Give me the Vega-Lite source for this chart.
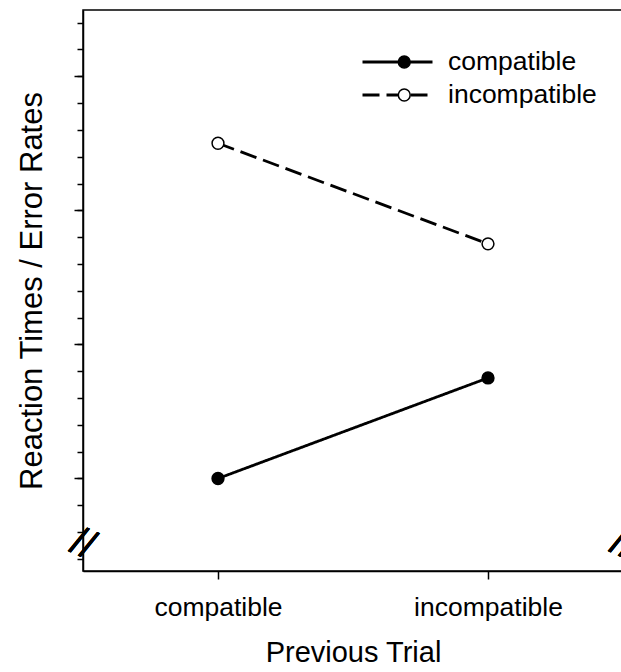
{
  "$schema": "https://vega.github.io/schema/vega-lite/v6.json",
  "autosize": {"type": "none"},
  "padding": {"left": 83, "top": 10, "right": 0, "bottom": 101},
  "width": 540,
  "height": 561,
  "background": "white",
  "config": {
    "view": {"stroke": "black", "strokeWidth": 1.5},
    "font": "Liberation Sans",
    "axis": {"domainColor": "black", "tickColor": "black", "domainWidth": 1.5, "tickWidth": 1.5, "grid": false, "labelColor": "black", "titleColor": "black", "titleFont": "Liberation Sans", "labelFont": "Liberation Sans", "titleFontWeight": "normal"},
    "legend": {"labelFont": "Liberation Sans", "labelColor": "black"}
  },
  "data": {"values": [
    {"prev": "compatible", "current": "compatible", "v": 3},
    {"prev": "incompatible", "current": "compatible", "v": 6.75},
    {"prev": "compatible", "current": "incompatible", "v": 15.5},
    {"prev": "incompatible", "current": "incompatible", "v": 11.75}
  ]},
  "layer": [
    {
      "mark": {"type": "line", "color": "black", "strokeWidth": 2.8},
      "encoding": {
        "x": {"field": "prev", "type": "nominal", "scale": {"type": "point", "padding": 0.5, "domain": ["compatible", "incompatible"]},
              "axis": {"title": "Previous Trial", "labelAngle": 0, "labelFontSize": 26.5, "titleFontSize": 29, "tickSize": 8, "labelPadding": 15, "titlePadding": 18}},
        "y": {"field": "v", "type": "quantitative", "scale": {"domain": [-0.45, 20.47], "nice": false, "zero": false},
              "axis": {"orient": "left", "values": [0,1,2,3,4,5,6,7,8,9,10,11,12,13,14,15,16,17,18,19,20], "tickSize": 6, "labels": false, "title": null, "domain": false}},
        "strokeDash": {"field": "current", "type": "nominal",
              "scale": {"range": [[1, 0], [17, 7]]},
              "legend": {"orient": "none", "legendX": 278, "legendY": 35.5, "title": null, "symbolType": "stroke", "symbolSize": 4900, "symbolStrokeWidth": 2.8, "symbolStrokeColor": "black", "clipHeight": 33, "rowPadding": 0, "padding": 0, "labelFontSize": 26.5, "labelOffset": 14, "zindex": 0}}
      }
    },
    {
      "mark": {"type": "point", "filled": true, "shape": "circle", "size": 140, "stroke": "black", "strokeWidth": 1.5, "opacity": 1},
      "encoding": {
        "x": {"field": "prev", "type": "nominal"},
        "y": {"field": "v", "type": "quantitative",
              "axis": {"orient": "left", "values": [3, 8, 13, 18], "tickSize": 9, "labels": false, "title": "Reaction Times / Error Rates", "titleFontSize": 31, "titlePadding": 25}},
        "fill": {"field": "current", "type": "nominal",
              "scale": {"domain": ["compatible", "incompatible"], "range": ["black", "white"]},
              "legend": {"orient": "none", "legendX": 308, "legendY": 35.5, "title": null, "symbolType": "circle", "symbolSize": 140, "symbolStrokeWidth": 1.5, "symbolStrokeColor": "black", "symbolOpacity": 1, "clipHeight": 33, "rowPadding": 0, "padding": 0, "labelFontSize": 26.5, "labelExpr": "''", "zindex": 1}}
      }
    },
    {
      "mark": {"type": "text", "text": "//", "fontSize": 40, "angle": 24, "align": "center", "baseline": "middle", "color": "black"},
      "encoding": {
        "x": {"value": 0},
        "y": {"datum": 0.55, "type": "quantitative", "axis": null}
      }
    },
    {
      "mark": {"type": "text", "text": "//", "fontSize": 40, "angle": 24, "align": "center", "baseline": "middle", "color": "black"},
      "encoding": {
        "x": {"value": "width"},
        "y": {"datum": 0.55, "type": "quantitative", "axis": null}
      }
    }
  ],
  "resolve": {"axis": {"y": "independent"}}
}
